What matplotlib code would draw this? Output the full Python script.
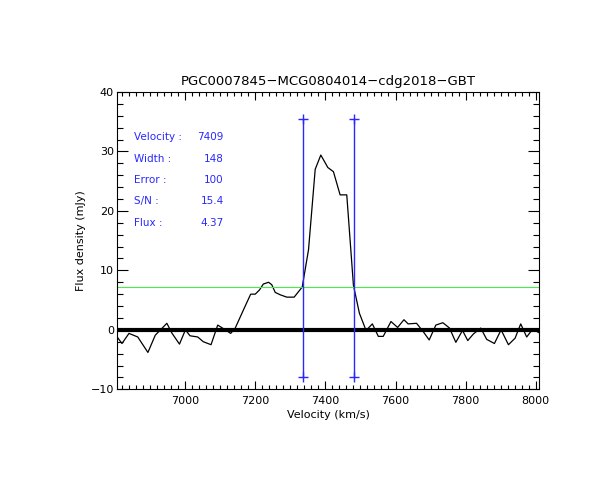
import matplotlib
matplotlib.use("Agg")
import matplotlib.pyplot as plt
from matplotlib.ticker import MultipleLocator

title = "PGC0007845\u2212MCG0804014\u2212cdg2018\u2212GBT"
velocity = [6805, 6820, 6840, 6865, 6894, 6915, 6948, 6963, 6984, 7001, 7014, 7036, 7052, 7074,
            7093, 7112, 7130, 7143, 7166, 7187, 7200, 7212, 7223, 7238, 7247, 7257, 7271, 7290,
            7311, 7334, 7352, 7371, 7387, 7407, 7423, 7442, 7461, 7480, 7497, 7516, 7534, 7551,
            7565, 7587, 7606, 7624, 7636, 7660, 7679, 7696, 7715, 7735, 7754, 7772, 7791, 7806,
            7822, 7843, 7860, 7882, 7901, 7922, 7941, 7957, 7974, 7991, 8010]
flux = [-1.1, -2.3, -0.6, -1.2, -3.8, -0.9, 1.1, -0.6, -2.4, 0.0, -1.0, -1.2, -2.0, -2.5,
        0.8, 0.1, -0.6, 0.3, 3.3, 6.0, 6.0, 6.7, 7.7, 8.0, 7.6, 6.3, 5.9, 5.5,
        5.5, 7.2, 13.5, 27.0, 29.4, 27.3, 26.6, 22.7, 22.7, 7.5, 2.8, -0.1, 1.0, -1.1,
        -1.1, 1.4, 0.4, 1.7, 1.0, 1.1, -0.3, -1.7, 0.8, 1.2, 0.3, -2.1, -0.1, -1.8,
        -0.7, 0.3, -1.6, -2.3, 0.0, -2.5, -1.4, 1.0, -1.2, 0.1, -0.5]
v_low, v_high = 7335, 7483
marker_bottom, marker_top = -8, 35.5
half_level = 7.2
info_labels = ["Velocity :", "Width :", "Error :", "S/N :", "Flux :"]
info_values = ["7409", "148", "100", "15.4", "4.37"]
info_y = [32.4, 28.7, 25.2, 21.6, 18.0]

blue = "#2828ff"
plt.rcParams['font.family'] = ['DejaVu Sans']

fig = plt.figure(figsize=(6.12, 5.0), dpi=100)
ax = fig.add_axes([116.7/612, 1-389.3/500, (539.3-116.7)/612, (389.3-92)/500])

ax.plot(velocity, flux, color='black', lw=0.9)
ax.axhline(0, color='black', lw=3.0)
ax.axhline(half_level, color='#44ee44', lw=0.8)
for v in (v_low, v_high):
    ax.plot([v, v], [marker_bottom, marker_top], color=blue, lw=1.0,
            marker='+', markersize=7, markeredgewidth=1.0)

for lab, val, y in zip(info_labels, info_values, info_y):
    ax.text(6855, y, lab, color=blue, fontsize=7.5, va='center', ha='left')
    ax.text(7110, y, val, color=blue, fontsize=7.5, va='center', ha='right')

ax.set_xlim(6805, 8010)
ax.set_ylim(-10, 40)
ax.xaxis.set_major_locator(MultipleLocator(200))
ax.xaxis.set_minor_locator(MultipleLocator(20))
ax.yaxis.set_major_locator(MultipleLocator(10))
ax.yaxis.set_minor_locator(MultipleLocator(2))
ax.tick_params(which='both', direction='in', top=True, right=True, width=0.8, labelsize=8)
ax.tick_params(which='major', axis='x', length=6)
ax.tick_params(which='minor', axis='x', length=3)
ax.tick_params(which='major', axis='y', length=8)
ax.tick_params(which='minor', axis='y', length=4)
ax.tick_params(axis='x', pad=5)
ax.tick_params(axis='y', pad=2)
for s in ax.spines.values():
    s.set_linewidth(0.8)

ax.set_title(title, fontsize=9.5, pad=5)
ax.set_xlabel("Velocity (km/s)", fontsize=8, labelpad=3)
ax.set_ylabel("Flux density (mJy)", fontsize=8, labelpad=3)

fig.savefig("out.png", dpi=100)
